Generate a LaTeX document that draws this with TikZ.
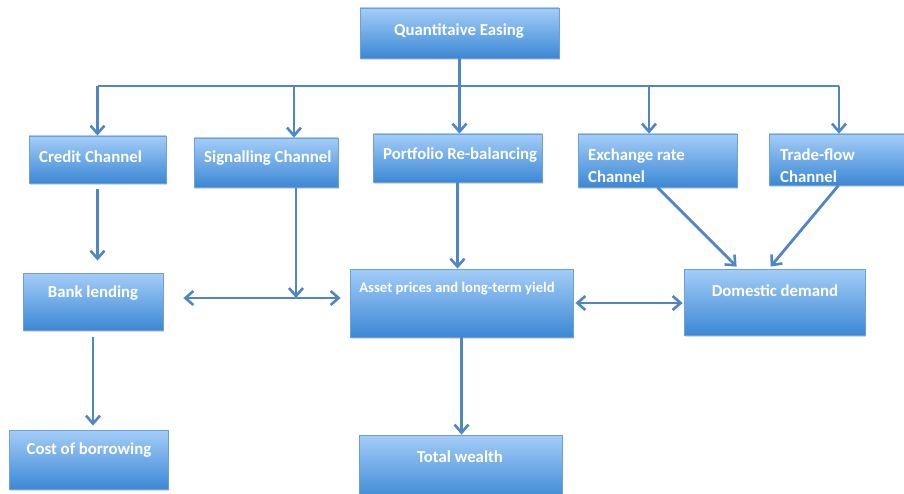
\documentclass[tikz,border=0pt]{standalone}
\usepackage{fontspec}
\setmainfont{Carlito}
\usetikzlibrary{arrows.meta,shadows,calc}
\definecolor{boxtop}{HTML}{A4CDF8}
\definecolor{boxbot}{HTML}{3C88D5}
\definecolor{boxedge}{HTML}{6DA0D8}
\definecolor{arrowc}{HTML}{4F86C4}
\begin{document}
\begin{tikzpicture}[x=1pt,y=-1pt,
  box/.style={draw=boxedge, line width=0.8pt, top color=boxtop, bottom color=boxbot,
    inner sep=0pt, drop shadow={opacity=0.3, shadow xshift=1pt, shadow yshift=-2pt}},
  lbl/.style={text=white, inner sep=0pt, font=\fontsize{16.8}{22}\selectfont\bfseries},
  ln/.style={draw=arrowc, line width=2.8pt},
  tip/.style={},
  arr/.style={ln, -{Straight Barb[length=8pt,width=14pt,line width=2.6pt]}},
  dbl/.style={ln, {Straight Barb[length=8pt,width=14pt,line width=2.6pt]}-{Straight Barb[length=8pt,width=14pt,line width=2.6pt]}}
]
\useasboundingbox (0,0) rectangle (904,494);
\clip (0,0) rectangle (904,494);

% boxes
\node[box, minimum width=199pt, minimum height=50pt] (qe) at (459.5,33) {};
\node[box, minimum width=137pt, minimum height=47pt] (cc) at (97.5,159.5) {};
\node[box, minimum width=144pt, minimum height=49pt] (sc) at (266,162.5) {};
\node[box, minimum width=169pt, minimum height=48pt] (pr) at (457.5,158) {};
\node[box, minimum width=159pt, minimum height=53pt] (er) at (657.5,160.5) {};
\node[box, minimum width=151pt, minimum height=51pt] (tf) at (844.5,159.5) {};
\node[box, minimum width=140pt, minimum height=57pt] (bl) at (93,301.5) {};
\node[box, minimum width=223pt, minimum height=68pt] (ap) at (461.5,303) {};
\node[box, minimum width=181pt, minimum height=66pt] (dd) at (774.5,302) {};
\node[box, minimum width=159pt, minimum height=59pt] (cb) at (88.5,459.5) {};
\node[box, minimum width=203pt, minimum height=65pt] (tw) at (460.5,467.5) {};

% labels
\node[lbl] (qet) at (459,31) {Quantitaive Easing};
\node[lbl, anchor=west] (cct) at (39,157) {Credit Channel};
\node[lbl, anchor=west] (sct) at (204,158) {Signalling Channel};
\node[lbl, anchor=west] (prt) at (383,155) {Portfolio Re-balancing};
\node[lbl, anchor=west, align=left] (ert) at (588,166) {Exchange rate\\Channel};
\node[lbl, anchor=west, align=left] (tft) at (780,166) {Trade-flow\\Channel};
\node[lbl] (blt) at (93,293) {Bank lending};
\node[lbl, font=\fontsize{14.7}{18}\selectfont\bfseries] (apt) at (457,289) {Asset prices and long-term yield};
\node[lbl] (ddt) at (775,291) {Domestic demand};
\node[lbl] (cbt) at (89,450) {Cost of borrowing};
\node[lbl] (twt) at (460,457) {Total wealth};

% bus
\coordinate (busL) at (97.5,86);
\coordinate (busR) at (839,86);
\coordinate (d2) at (294,86);
\coordinate (d4) at (649,86);
\draw[ln] (busL) -- (busR);
\draw[arr] (qe.south) -- (qe.south |- pr.north);
\draw[arr] (busL) -- (busL |- cc.north);
\draw[arr] (d2) -- (d2 |- sc.north);
\draw[arr] (d4) -- (d4 |- er.north);
\draw[arr] (busR) -- (busR |- tf.north);

% middle
\coordinate (j) at (296,298);
\draw[arr, shorten <=6pt, shorten >=12pt] (cc.south) -- (cc.south |- bl.north);
\draw[arr, shorten <=1pt] (j |- sc.south) -- (j);
\draw[dbl, shorten <=20pt, shorten >=9pt] (bl.east |- j) -- (ap.west |- j);
\draw[arr] (pr.south) -- (pr.south |- ap.north);
\draw[arr] (er.south) -- ([xshift=53pt,yshift=2pt]dd.north west);
\draw[arr] ([xshift=-6pt]tf.south) -- ([xshift=87pt,yshift=2pt]dd.north west);
\draw[dbl, shorten <=2pt, shorten >=1pt] (ap.east) -- (ap.east -| dd.west);

% bottom
\draw[arr, shorten <=7pt, shorten >=4pt] (bl.south) -- (bl.south |- cb.north);
\draw[arr] (ap.south) -- (ap.south |- tw.north);
\end{tikzpicture}
\end{document}
